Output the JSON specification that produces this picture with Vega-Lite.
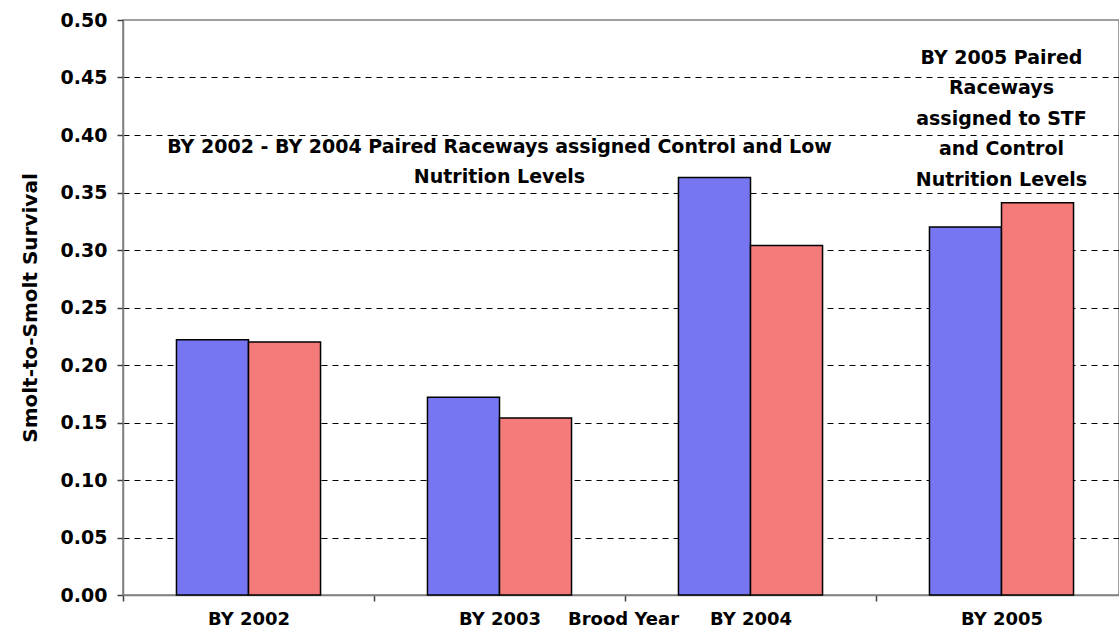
{
  "$schema": "https://vega.github.io/schema/vega-lite/v6.json",
  "width": 996,
  "height": 575,
  "autosize": {"type": "none"},
  "padding": {"left": 123, "top": 20, "right": 0, "bottom": 40},
  "background": "white",
  "config": {
    "view": {"stroke": "#808080", "strokeWidth": 1.5},
    "font": "DejaVu Sans"
  },
  "datasets": {
    "bars": [
      {"year": "BY 2002", "series": "Series 1", "survival": 0.222},
      {"year": "BY 2002", "series": "Series 2", "survival": 0.220},
      {"year": "BY 2003", "series": "Series 1", "survival": 0.172},
      {"year": "BY 2003", "series": "Series 2", "survival": 0.154},
      {"year": "BY 2004", "series": "Series 1", "survival": 0.363},
      {"year": "BY 2004", "series": "Series 2", "survival": 0.304},
      {"year": "BY 2005", "series": "Series 1", "survival": 0.320},
      {"year": "BY 2005", "series": "Series 2", "survival": 0.341}
    ],
    "notes": [
      {"year": "BY 2003", "survival": 0.3896, "note": "BY 2002 - BY 2004 Paired Raceways assigned Control and Low|Nutrition Levels"},
      {"year": "BY 2005", "survival": 0.467, "note": "BY 2005 Paired|Raceways|assigned to STF|and Control|Nutrition Levels"}
    ]
  },
  "layer": [
    {
      "data": {"name": "bars"},
      "mark": {"type": "bar", "stroke": "#000000", "strokeWidth": 1.5},
      "encoding": {
        "x": {
          "field": "year",
          "type": "nominal",
          "sort": ["BY 2002", "BY 2003", "BY 2004", "BY 2005"],
          "scale": {"paddingInner": 0.426, "paddingOuter": 0.213, "range": [0, 1004]},
          "axis": {
            "title": "Brood Year",
            "titleX": 500,
            "titleY": 15,
            "titleAlign": "center",
            "titleBaseline": "top",
            "titleFont": "DejaVu Sans",
            "titleFontSize": 18,
            "titleFontWeight": "bold",
            "titleColor": "#000000",
            "labelAngle": 0,
            "labelFont": "DejaVu Sans",
            "labelFontSize": 18,
            "labelFontWeight": "bold",
            "labelColor": "#000000",
            "labelPadding": 9,
            "labelOffset": 125.5,
            "tickOffset": -125.5,
            "tickSize": 6,
            "tickColor": "#404040",
            "tickWidth": 1.5,
            "domainColor": "#808080",
            "domainWidth": 1.5,
            "grid": false
          }
        },
        "xOffset": {
          "field": "series",
          "type": "nominal",
          "sort": ["Series 1", "Series 2"],
          "scale": {"paddingInner": 0, "paddingOuter": 0}
        },
        "y": {
          "field": "survival",
          "type": "quantitative",
          "scale": {"domain": [0, 0.5], "nice": false},
          "axis": {
            "title": "Smolt-to-Smolt Survival",
            "titleX": -93,
            "titleY": 287.5,
            "titleAngle": 270,
            "titleAlign": "center",
            "titleBaseline": "middle",
            "titleFont": "DejaVu Sans",
            "titleFontSize": 20,
            "titleFontWeight": "bold",
            "titleColor": "#000000",
            "values": [0, 0.05, 0.1, 0.15, 0.2, 0.25, 0.3, 0.35, 0.4, 0.45, 0.5],
            "format": ".2f",
            "labelFont": "DejaVu Sans",
            "labelFontSize": 19,
            "labelFontWeight": "bold",
            "labelColor": "#000000",
            "labelPadding": 10,
            "tickSize": 6,
            "tickColor": "#404040",
            "tickWidth": 1.5,
            "domainColor": "#808080",
            "domainWidth": 1.5,
            "grid": true,
            "gridColor": "#000000",
            "gridDash": [6, 5],
            "gridWidth": 1,
            "gridOpacity": {"condition": {"test": "datum.value <= 0 || datum.value >= 0.5", "value": 0}, "value": 1}
          }
        },
        "color": {
          "field": "series",
          "type": "nominal",
          "scale": {"domain": ["Series 1", "Series 2"], "range": ["#7676F2", "#F57A7A"]},
          "legend": null
        }
      }
    },
    {
      "data": {"name": "notes"},
      "mark": {
        "type": "text",
        "font": "DejaVu Sans",
        "fontSize": 19,
        "fontWeight": "bold",
        "color": "#000000",
        "align": "center",
        "baseline": "middle",
        "lineBreak": "|",
        "lineHeight": 30.5
      },
      "encoding": {
        "x": {"field": "year", "type": "nominal", "sort": ["BY 2002", "BY 2003", "BY 2004", "BY 2005"]},
        "y": {"field": "survival", "type": "quantitative"},
        "text": {"field": "note"}
      }
    }
  ]
}
